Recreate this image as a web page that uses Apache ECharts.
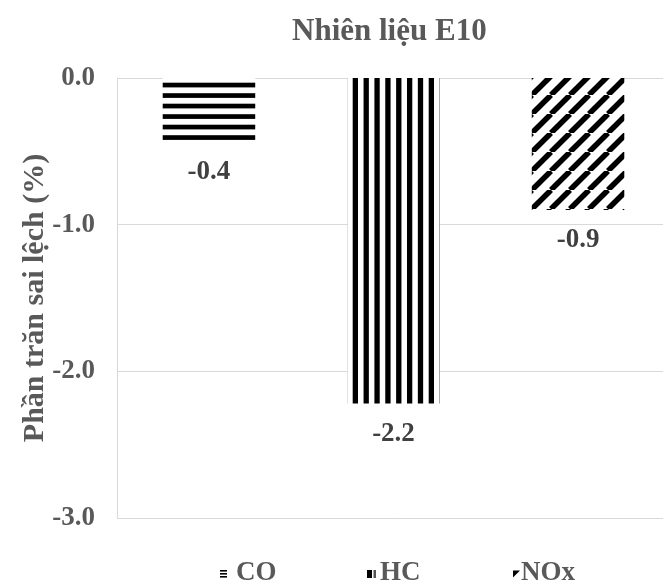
<!DOCTYPE html>
<html>
<head>
<meta charset="utf-8">
<script src="https://cdn.jsdelivr.net/npm/echarts@6/dist/echarts.min.js"></script>
<style>
  html, body { margin: 0; padding: 0; background: #ffffff; overflow: hidden; }
  /* the plot runs past the right edge of the page, as in the original figure */
  #chart { width: 680px; height: 587px; }
</style>
</head>
<body>
<div id="chart"></div>
<script>
// Emission deviation for E10 fuel (percent)
const chartTitle = 'Nhiên liệu E10';
const axisTitle = 'Phần trăn sai lệch (%)';
const seriesNames = ['CO', 'HC', 'NOx'];
const seriesValues = [-0.43, -2.22, -0.9];
const yMin = -3;
const yMax = 0;
const yStep = 1;

const serif = '"Liberation Serif", "Times New Roman", serif';

// Hatch fills drawn on small tiles and repeated across the bars
function makeTile(w, h, draw) {
  const c = document.createElement('canvas');
  c.width = w; c.height = h;
  const ctx = c.getContext('2d');
  ctx.fillStyle = '#ffffff';
  ctx.fillRect(0, 0, w, h);
  ctx.fillStyle = '#000000';
  ctx.strokeStyle = '#000000';
  draw(ctx, w, h);
  return c;
}
// horizontal lines, period 10.5 px
const horizTile = makeTile(8, 21, (ctx) => {
  ctx.fillRect(0, 9.2, 8, 4.7);
  ctx.fillRect(0, 19.7, 8, 1.3);
  ctx.fillRect(0, 0, 8, 3.4);
});
// vertical lines, period ~10.86 px
const vertTile = makeTile(76, 8, (ctx) => {
  for (let k = 0; k < 7; k++) {
    const x = (48.7 + k * 76 / 7) % 76;
    ctx.fillRect(x, 0, 5.3, 8);
    if (x + 5.3 > 76) ctx.fillRect(x - 76, 0, 5.3, 8);
  }
});
// rising diagonal lines
const diagTile = makeTile(19, 19, (ctx, w, h) => {
  ctx.lineWidth = 5.5;
  for (let k = -1; k <= 1; k++) {
    ctx.beginPath();
    ctx.moveTo(k * w, h);
    ctx.lineTo(k * w + w, 0);
    ctx.stroke();
  }
});
const fills = [horizTile, vertTile, diagTile];

// small legend keys showing a piece of each hatch
const keyCO = makeTile(7, 9, (ctx) => {
  ctx.fillRect(0, 1, 7, 1.6);
  ctx.fillRect(0, 4, 7, 1.6);
  ctx.fillRect(0, 7, 7, 1.6);
});
const keyHC = makeTile(9, 9, (ctx) => {
  ctx.fillRect(0, 1, 5, 8);
  ctx.fillStyle = '#555555';
  ctx.fillRect(6.5, 1, 2.5, 8);
});
const keyNOx = makeTile(7, 9, (ctx) => {
  ctx.beginPath();
  ctx.moveTo(0, 1.5); ctx.lineTo(7, 1.5); ctx.lineTo(0, 8.5);
  ctx.closePath(); ctx.fill();
  ctx.strokeStyle = '#ffffff';
  ctx.lineWidth = 1.2;
  ctx.beginPath(); ctx.moveTo(2.5, 8.5); ctx.lineTo(7, 4); ctx.stroke();
});
const keys = [keyCO, keyHC, keyNOx];

const chart = echarts.init(document.getElementById('chart'), null, { renderer: 'canvas' });

const series = seriesNames.map((name, i) => ({
  name: name,
  type: 'bar',
  data: [seriesValues[i]],
  barWidth: 92.5,
  barGap: '99.5%',
  itemStyle: { color: { image: fills[i], repeat: 'repeat' } },
  label: {
    show: true,
    position: 'bottom',
    distance: 17,
    formatter: (p) => p.value.toFixed(1),
    fontFamily: serif,
    fontWeight: 'bold',
    fontSize: 27,
    color: '#404040'
  },
  emphasis: { disabled: true }
}));

// one legend block per series so each key sits at its own spot
const legendLefts = [215, 362, 508];
const legendWidths = [7, 9, 7];
const legendPads = [4, -1, -4];
const legends = seriesNames.map((name, i) => ({
  data: [{ name: name, icon: 'image://' + keys[i].toDataURL() }],
  left: legendLefts[i],
  top: 555,
  itemWidth: legendWidths[i],
  itemHeight: 9,
  textStyle: {
    fontFamily: serif, fontWeight: 'bold', fontSize: 27, color: '#595959',
    padding: [0, 0, 0, legendPads[i]]
  }
}));

chart.setOption({
  animation: false,
  backgroundColor: '#ffffff',
  title: {
    text: chartTitle,
    left: 287,
    top: 11,
    textStyle: { fontFamily: serif, fontWeight: 'bold', fontSize: 31, color: '#595959' }
  },
  legend: legends,
  grid: { left: 117, right: 10, top: 78, bottom: 69 },
  xAxis: {
    type: 'category',
    data: [''],
    axisLine: { show: false },
    axisTick: { show: false },
    axisLabel: { show: false }
  },
  yAxis: {
    type: 'value',
    min: yMin,
    max: yMax,
    interval: yStep,
    name: axisTitle,
    nameLocation: 'middle',
    nameGap: 67,
    nameRotate: 90,
    nameMoveOverlap: false,
    nameTextStyle: { fontFamily: serif, fontWeight: 'bold', fontSize: 30, color: '#595959' },
    axisLine: { show: true, lineStyle: { color: '#d9d9d9', width: 1 } },
    axisTick: { show: false },
    splitLine: { show: true, lineStyle: { color: '#d9d9d9', width: 1 } },
    axisLabel: {
      margin: 22,
      formatter: (v) => v.toFixed(1),
      fontFamily: serif,
      fontWeight: 'bold',
      fontSize: 27,
      color: '#595959'
    }
  },
  series: series
});
</script>
</body>
</html>
